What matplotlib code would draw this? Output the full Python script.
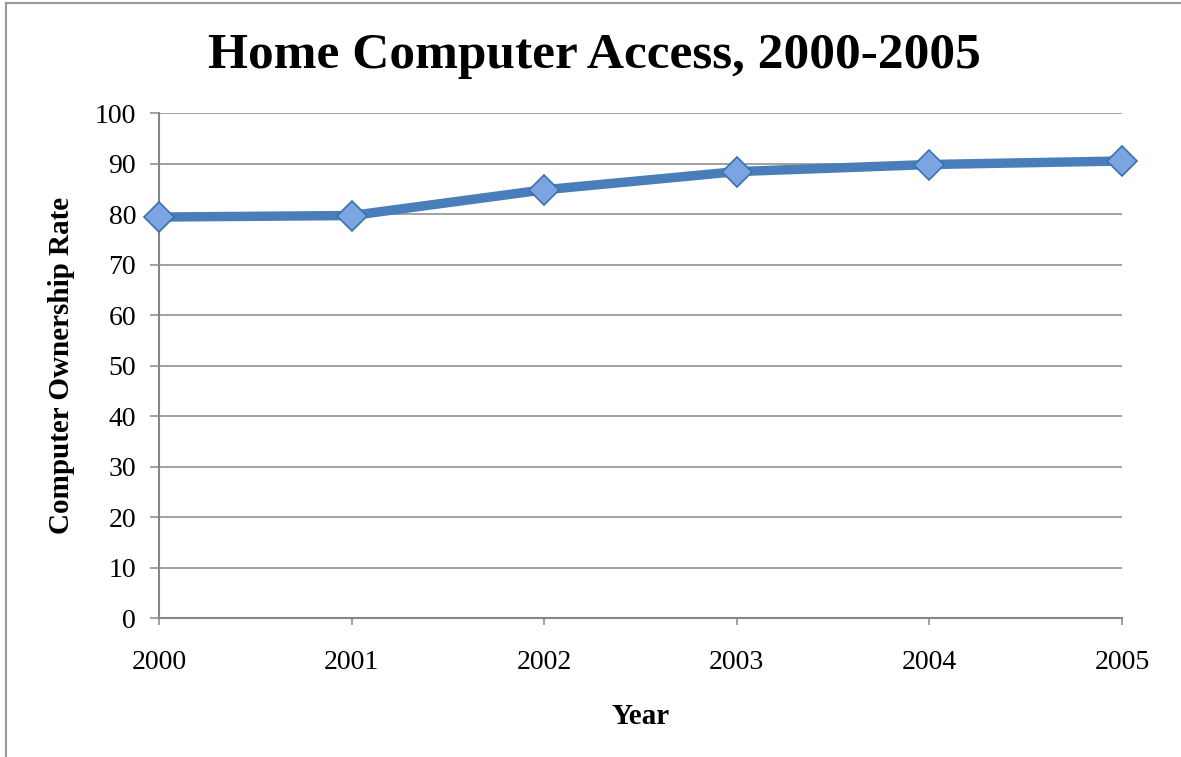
"""
Home computer access line chart, 2000-2005.
"""
import numpy as np
import matplotlib
matplotlib.use('Agg')
import matplotlib.pyplot as plt
from matplotlib.lines import Line2D

# --- Data ---
years = [2000, 2001, 2002, 2003, 2004, 2005]
ownership_rate = [79.4, 79.7, 84.8, 88.4, 89.8, 90.5]
y_ticks = list(range(0, 101, 10))

plt.rcParams['font.family'] = ['Liberation Serif', 'DejaVu Serif']

fig = plt.figure(figsize=(11.81, 7.57), dpi=100)
ax = fig.add_axes([0.1346, 0.1836, 0.8154, 0.6671])

grey = '#878787'
ax.set_axisbelow(True)
ax.yaxis.grid(True, color=grey, lw=1.1)

ax.plot(years, ownership_rate, color='#4a7ebb', lw=6.8, solid_capstyle='round',
        marker='D', markersize=15, markerfacecolor='#7ba5e0',
        markeredgecolor='#3d6fae', markeredgewidth=1.2, zorder=3, clip_on=False)

ax.set_xlim(2000, 2005)
ax.set_ylim(0, 100)
ax.set_xticks(years)
ax.set_yticks(y_ticks)

for side in ('top', 'right'):
    ax.spines[side].set_visible(False)
for side in ('left', 'bottom'):
    ax.spines[side].set_color(grey)
    ax.spines[side].set_linewidth(1.5)

ax.tick_params(axis='y', direction='out', length=6.5, width=1.1, color=grey,
               labelsize=20, pad=10)
ax.tick_params(axis='x', direction='out', length=5, width=1.1, color=grey,
               labelsize=20, pad=18)

ax.set_xlabel('Year', fontsize=21, fontweight='bold', labelpad=20)
ax.set_ylabel('Computer Ownership Rate', fontsize=21, fontweight='bold', labelpad=14)

fig.text(0.503, 0.926, 'Home Computer Access, 2000-2005', ha='center', va='center',
         fontsize=37, fontweight='bold')

# chart frame (left and top edges)
fig.add_artist(Line2D([6 / 1181, 6 / 1181], [0, 1 - 3 / 757], color='#9a9a9a', lw=1.5))
fig.add_artist(Line2D([6 / 1181, 1], [1 - 3 / 757, 1 - 3 / 757], color='#9a9a9a', lw=1.5))

fig.savefig('out.png', dpi=100)
